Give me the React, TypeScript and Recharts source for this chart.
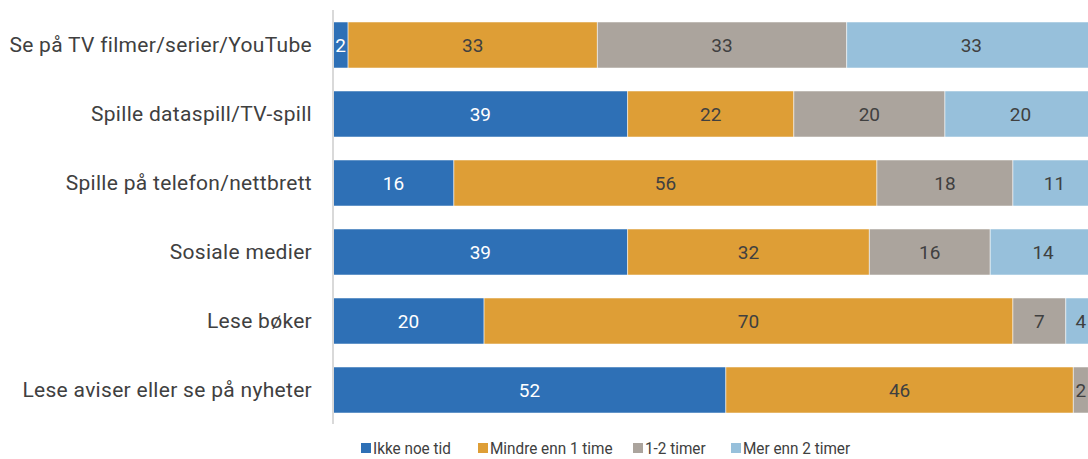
import { BarChart, Bar, XAxis, YAxis, LabelList } from "recharts";

const categories = [
  "Se på TV filmer/serier/YouTube",
  "Spille dataspill/TV-spill",
  "Spille på telefon/nettbrett",
  "Sosiale medier",
  "Lese bøker",
  "Lese aviser eller se på nyheter",
];

const ikkeNoeTid = [2, 39, 16, 39, 20, 52];
const mindreEnn1 = [33, 22, 56, 32, 70, 46];
const enTilTo = [33, 20, 18, 16, 7, 2];
const merEnn2 = [33, 20, 11, 14, 4, 0];

const series = [
  { key: "ikke", name: "Ikke noe tid", color: "#2e70b6", text: "#ffffff", left: 361 },
  { key: "mindre", name: "Mindre enn 1 time", color: "#de9e36", text: "#404040", left: 478 },
  { key: "en2", name: "1-2 timer", color: "#aba49d", text: "#404040", left: 633 },
  { key: "mer", name: "Mer enn 2 timer", color: "#97c0db", text: "#404040", left: 731 },
];

const data = categories.map((c, i) => ({
  name: c,
  ikke: ikkeNoeTid[i],
  mindre: mindreEnn1[i],
  en2: enTilTo[i],
  mer: merEnn2[i],
}));

const font = "Roboto, 'Noto Sans', sans-serif";

export default function App() {
  return (
    <div
      style={{
        position: "absolute",
        left: 0,
        top: 0,
        width: 1088,
        height: 459,
        overflow: "hidden",
        background: "#fff",
        fontFamily: font,
      }}
    >
      <BarChart
        width={1096}
        height={459}
        data={data}
        layout="vertical"
        margin={{ top: 10, right: 0, bottom: 35, left: 8 }}
        barSize={46}
      >
        <XAxis type="number" domain={[0, 100]} hide />
        <YAxis
          type="category"
          dataKey="name"
          width={325}
          tickSize={0}
          tickMargin={21}
          axisLine={{ stroke: "#d9d9d9", strokeWidth: 2 }}
          tick={{ fontSize: 21, fill: "#404040", fontFamily: font, letterSpacing: 0.3 }}
        />
        {series.map((s) => (
          <Bar
            key={s.key}
            dataKey={s.key}
            stackId="a"
            fill={s.color}
            stroke="#ffffff"
            strokeOpacity={0.5}
            strokeWidth={1}
            isAnimationActive={false}
          >
            <LabelList
              dataKey={s.key}
              position="center"
              fill={s.text}
              fontSize={19}
              fontFamily={font}
              formatter={(v: any) => (v ? v : "")}
            />
          </Bar>
        ))}
      </BarChart>
      {series.map((s) => (
        <div
          key={s.key}
          style={{
            position: "absolute",
            left: s.left,
            top: 438,
            display: "flex",
            alignItems: "center",
            fontSize: 17,
            color: "#404040",
            whiteSpace: "nowrap",
          }}
        >
          <span
            style={{
              display: "inline-block",
              width: 10,
              height: 10,
              background: s.color,
              marginRight: 2,
            }}
          />
          <span
            style={{
              display: "inline-block",
              transform: "scaleX(0.9)",
              transformOrigin: "left center",
            }}
          >
            {s.name}
          </span>
        </div>
      ))}
    </div>
  );
}
